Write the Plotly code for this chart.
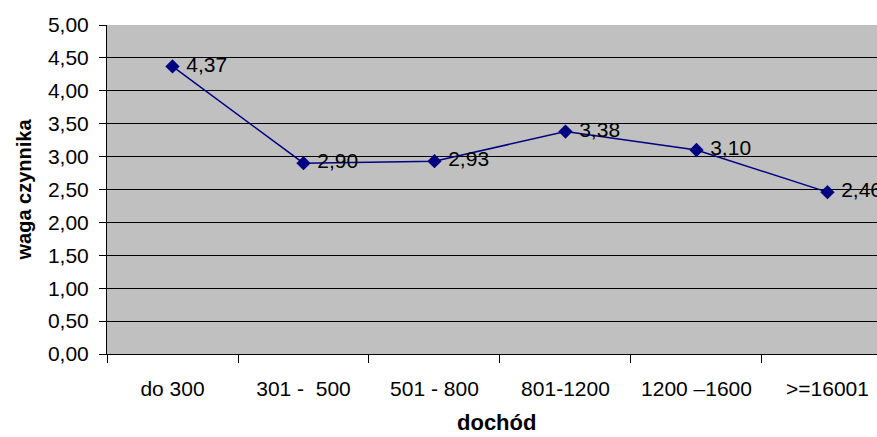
import plotly.graph_objects as go

categories = ["do 300", "301 -  500", "501 - 800", "801-1200", "1200 \u20131600", ">=16001"]
values = [4.37, 2.90, 2.93, 3.38, 3.10, 2.46]
y_title = "waga czynnika"
x_title = "doch\u00f3d"

FONT = "Liberation Sans, Arial, sans-serif"

fig = go.Figure()
fig.add_trace(go.Scatter(
    x=categories, y=values,
    mode="lines+markers+text",
    line=dict(color="#000080", width=1.5),
    marker=dict(symbol="diamond", size=11, color="#000080"),
    texttemplate=" %{y:.2f}",
    textposition="middle right",
    textfont=dict(family=FONT, size=21, color="#000000"),
    cliponaxis=False,
    showlegend=False,
))

fig.update_layout(
    width=877, height=437,
    margin=dict(l=107, r=0, t=25, b=83),
    paper_bgcolor="#ffffff",
    plot_bgcolor="#C0C0C0",
    separators=",.",
    font=dict(family=FONT, size=21, color="#000000"),
    xaxis=dict(
        type="category",
        range=[-0.5, 5.378],
        showgrid=False,
        showline=True, linecolor="#000000", linewidth=1,
        ticks="outside", tickson="boundaries", ticklen=8, tickcolor="#000000",
        tickfont=dict(family=FONT, size=21),
        ticklabelstandoff=16,
        zeroline=False,
    ),
    yaxis=dict(
        range=[0, 5],
        dtick=0.5,
        tickformat=".2f",
        showgrid=True, gridcolor="#000000", gridwidth=1,
        showline=True, linecolor="#000000", linewidth=1,
        ticks="outside", ticklen=7, tickcolor="#000000",
        tickfont=dict(family=FONT, size=21),
        ticklabelstandoff=6,
        zeroline=False,
    ),
    annotations=[
        dict(text="<b>" + y_title + "</b>", xref="paper", yref="paper",
             x=-84 / 770, y=0.5, xanchor="center", yanchor="middle",
             textangle=-90, showarrow=False,
             font=dict(family=FONT, size=20, color="#000000")),
        dict(text="<b>" + x_title + "</b>", xref="paper", yref="paper",
             x=0.506, y=-68 / 329, xanchor="center", yanchor="middle",
             showarrow=False,
             font=dict(family=FONT, size=22, color="#000000")),
    ],
)

fig.write_html("out.html")
